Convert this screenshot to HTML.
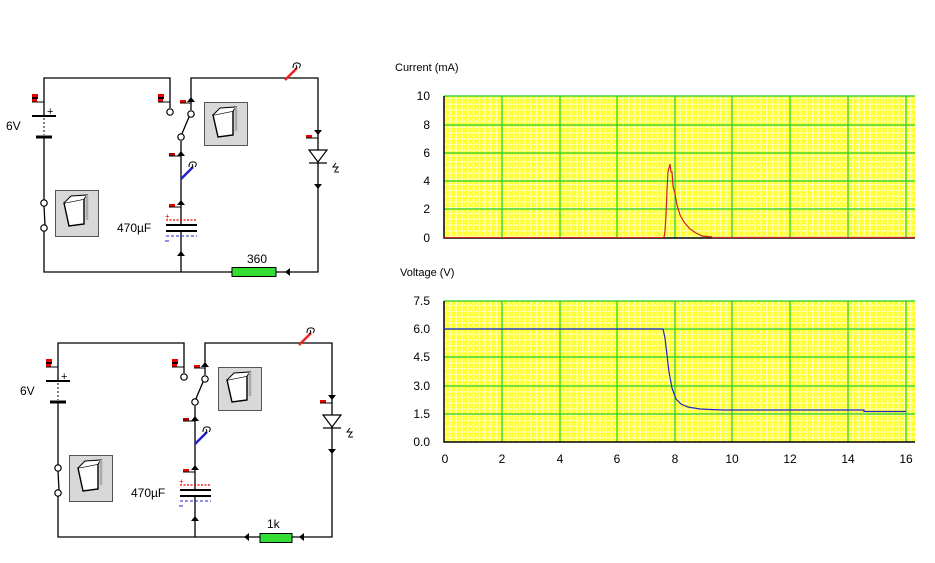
<!DOCTYPE html>
<html><head><meta charset="utf-8"><style>
html,body{margin:0;padding:0;background:#fff;}
svg{display:block;font-family:"Liberation Sans",sans-serif;}
</style></head><body>
<svg width="935" height="563" viewBox="0 0 935 563" xmlns="http://www.w3.org/2000/svg">
<defs>
<pattern id="mg" x="444" y="0" width="5.75" height="5.75" patternUnits="userSpaceOnUse">
<rect width="5.75" height="5.75" fill="#ffff33"/>
<path d="M0,0.7H5.75M0.7,0V5.75" stroke="#ffffd8" stroke-width="1.4" stroke-dasharray="2,1"/>
</pattern>
<g id="circ">
<g fill="none" stroke="#000" stroke-width="1.3">
<path d="M170,108 V78 H44 V116 M44,137 V200 M44,231 V272 H318 V78 H191 V110"/>
<path d="M181,141 V225 M181,231 V272"/>
<path d="M181,136 L189,117"/>
<path d="M44,206 L45,225"/>
</g>
<g fill="#fff" stroke="#000" stroke-width="1.2">
<circle cx="170" cy="112" r="3.2"/><circle cx="191" cy="114" r="3.2"/><circle cx="181" cy="137" r="3.2"/>
<circle cx="44" cy="203" r="3.2"/><circle cx="44" cy="228" r="3.2"/>
</g>
<path d="M32,116 H56" stroke="#000" stroke-width="2"/>
<path d="M36,137 H52" stroke="#000" stroke-width="3"/>
<path d="M44,118 V135" stroke="#000" stroke-width="1" stroke-dasharray="2,2"/>
<rect x="32" y="94" width="6" height="3" fill="#e00"/><rect x="32" y="97" width="6" height="2" fill="#000"/><rect x="32" y="99" width="5" height="3" fill="#e00"/><path d="M32,102H44" stroke="#000"/>
<rect x="158" y="94" width="6" height="3" fill="#e00"/><rect x="158" y="97" width="6" height="2" fill="#000"/><rect x="158" y="99" width="5" height="3" fill="#e00"/><path d="M158,102H170" stroke="#000"/>
<rect x="180" y="100" width="6" height="3" fill="#e00"/><path d="M180,103H191" stroke="#000"/>
<rect x="169" y="153" width="6" height="3" fill="#a00"/><path d="M169,156H181" stroke="#000"/>
<rect x="169" y="204" width="6" height="3" fill="#e00"/><path d="M169,207H181" stroke="#000"/>
<rect x="306" y="135" width="6" height="3" fill="#e00"/><path d="M306,138H318" stroke="#000"/>
<g fill="#000">
<path d="M187,102 L191,97 L195,102Z"/>
<path d="M177,156 L181,151 L185,156Z"/>
<path d="M177,205 L181,200 L185,205Z"/>
<path d="M177,256 L181,251 L185,256Z"/>
<path d="M314,130 L322,130 L318,135Z"/>
<path d="M314,184 L322,184 L318,189Z"/>
<path d="M235,268 L235,276 L230,272Z"/>
<path d="M290,268 L290,276 L285,272Z"/>
</g>
<path d="M166,225 H197 M166,231 H197" stroke="#000" stroke-width="2"/>
<path d="M166,220 H197" stroke="#e00" stroke-width="1.3" stroke-dasharray="2,1.5"/>
<path d="M166,236 H197" stroke="#22c" stroke-width="1" stroke-dasharray="3,2"/>
<text x="165" y="219" font-size="8" fill="#e00">+</text>
<path d="M165,241 H169" stroke="#22c"/>
<path d="M309,150 H327 L318,162Z" fill="#fff" stroke="#000" stroke-width="1.2"/>
<path d="M309,163 H327" stroke="#000" stroke-width="1.3"/>
<path d="M336,163 l-3,4 h5 l-3,4 M334,172 l5,0" stroke="#000" fill="none" stroke-width="1"/>
<path d="M285,80 L297,68" stroke="#e22" stroke-width="2.5"/>
<path d="M293,68 q0,-6 5,-5 q4,1 1,5 M296,65 q2,3 -1,4" stroke="#000" fill="none" stroke-width="1"/>
<path d="M181,179 L193,167" stroke="#22c" stroke-width="2.5"/>
<path d="M189,167 q0,-6 5,-5 q4,1 1,5 M192,164 q2,3 -1,4" stroke="#000" fill="none" stroke-width="1"/>
<rect x="55.5" y="190.5" width="43" height="46" fill="#d8d8d8" stroke="#555" stroke-width="1"/>
<path d="M64,203 L84,199 L84,224 L69,226Z" fill="#fff" stroke="#000" stroke-width="1.4"/>
<path d="M64,203 L71,196 L87,195 L84,199" fill="#fff" stroke="#000" stroke-width="1"/>
<path d="M87,195 L87,220" stroke="#aaa" stroke-width="2.5"/>
<rect x="204.5" y="102.5" width="43" height="43" fill="#d8d8d8" stroke="#555" stroke-width="1"/>
<path d="M213,115 L233,111 L233,135 L218,137Z" fill="#fff" stroke="#000" stroke-width="1.4"/>
<path d="M213,115 L220,108 L236,107 L233,111" fill="#fff" stroke="#000" stroke-width="1"/>
<path d="M236,107 L236,131" stroke="#aaa" stroke-width="2.5"/>
</g>
</defs>

<use href="#circ"/>
<rect x="232" y="267.5" width="44" height="9" fill="#33dd33" stroke="#000" stroke-width="1"/>
<text x="6" y="130" font-size="12">6V</text>
<text x="47" y="115" font-size="11">+</text>
<text x="117" y="232" font-size="12">470µF</text>
<text x="247" y="263" font-size="12">360</text>

<g transform="translate(14,265)"><use href="#circ"/></g>
<rect x="260" y="533.5" width="32" height="9" fill="#33dd33" stroke="#000" stroke-width="1"/>
<text x="20" y="395" font-size="12">6V</text>
<text x="61" y="380" font-size="11">+</text>
<text x="131" y="497" font-size="12">470µF</text>
<text x="267" y="528" font-size="12">1k</text>

<text x="395" y="71" font-size="11">Current (mA)</text>
<rect x="444" y="96" width="471" height="142" fill="url(#mg)"/>
<g stroke="#22cc22" stroke-width="1.2">
<path d="M444,96H915 M444,125H915 M444,153H915 M444,181H915 M444,209H915"/>
<path d="M502,96V238 M560,96V238 M617,96V238 M675,96V238 M732,96V238 M790,96V238 M848,96V238 M906,96V238"/>
</g>
<path d="M444,96V238H915" stroke="#000" stroke-width="1.5" fill="none"/>
<path d="M444,237.5H663" stroke="#d22" stroke-width="1"/>
<path d="M664,237.5 L665,231 L666,215 L667,190 L668,172 L670,164 L671,172 L672,172 L673,186 L675,194 L677,205 L680,215 L684,222 L690,229 L696,233 L702,236 L712,237 M712,237.5 H915" stroke="#c22" stroke-width="1.2" fill="none"/>
<g font-size="12" text-anchor="end">
<text x="430" y="100">10</text><text x="430" y="129">8</text><text x="430" y="157">6</text><text x="430" y="185">4</text><text x="430" y="213">2</text><text x="430" y="242">0</text>
</g>

<text x="400" y="276" font-size="11">Voltage (V)</text>
<rect x="444" y="301" width="471" height="141" fill="url(#mg)"/>
<g stroke="#22cc22" stroke-width="1.2">
<path d="M444,301H915 M444,329H915 M444,357H915 M444,386H915 M444,414H915"/>
<path d="M502,301V442 M560,301V442 M617,301V442 M675,301V442 M732,301V442 M790,301V442 M848,301V442 M906,301V442"/>
</g>
<path d="M444,301V442H915" stroke="#000" stroke-width="1.5" fill="none"/>
<path d="M444,329 H663 L665,338 L667,355 L669,372 L672,388 L676,399 L681,404 L688,407 L700,409 L710,409.5 L725,410 H864 V411.5 H906" stroke="#22c" stroke-width="1.2" fill="none"/>
<g font-size="12" text-anchor="end">
<text x="430" y="305">7.5</text><text x="430" y="333">6.0</text><text x="430" y="361">4.5</text><text x="430" y="390">3.0</text><text x="430" y="418">1.5</text><text x="430" y="446">0.0</text>
</g>
<g font-size="12" text-anchor="middle">
<text x="445" y="463">0</text><text x="502" y="463">2</text><text x="560" y="463">4</text><text x="617" y="463">6</text><text x="675" y="463">8</text><text x="732" y="463">10</text><text x="790" y="463">12</text><text x="848" y="463">14</text><text x="906" y="463">16</text>
</g>
</svg>
</body></html>
